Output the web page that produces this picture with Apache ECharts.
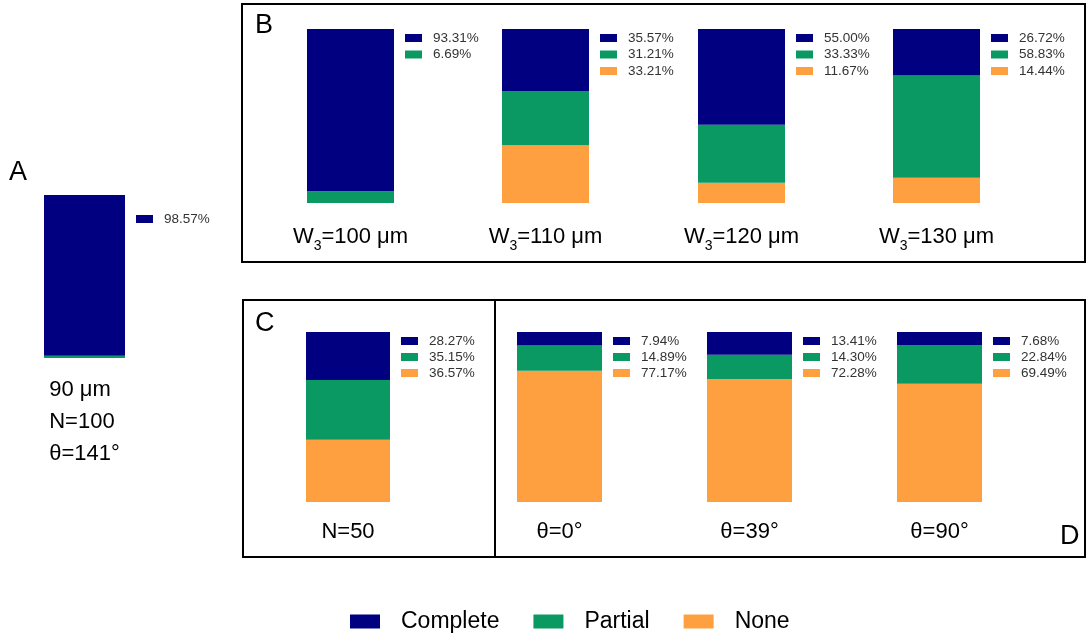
<!DOCTYPE html>
<html>
<head>
<meta charset="utf-8">
<script src="https://cdn.jsdelivr.net/npm/echarts@6/dist/echarts.min.js"></script>
<style>
  html, body { margin: 0; padding: 0; background: #fff; }
  #main { width: 1087px; height: 636px; }
</style>
</head>
<body>
<div id="main"></div>
<script>
// one entry per bar: A, B1..B4, C, D1..D3
var barLabels = ['{l|90 μm}\n{l|N=100}\n{l|θ=141°}', 'W{s|3}=100 μm', 'W{s|3}=110 μm', 'W{s|3}=120 μm', 'W{s|3}=130 μm',
                 'N=50', 'θ=0°', 'θ=39°', 'θ=90°'];
var complete = [98.57, 93.31, 35.57, 55.00, 26.72, 28.27, 7.94, 13.41, 7.68];
var partial  = [1.43, 6.69, 31.21, 33.33, 58.83, 35.15, 14.89, 14.30, 22.84];
var none     = [0, 0, 33.21, 11.67, 14.44, 36.57, 77.17, 72.28, 69.49];
// how many rows the little side list shows for each bar
var listed   = [1, 2, 3, 3, 3, 3, 3, 3, 3];
var seriesNames = ['Complete', 'Partial', 'None'];
var colors = ['#000080', '#0a9863', '#fea040'];

// bar boxes [left, top, width, height]
var boxes = [
    [44, 195, 81, 163],
    [307, 29, 87, 174], [502, 29, 87, 174], [698, 29, 87, 174], [893, 29, 87, 174],
    [306, 332, 84, 170],
    [517, 332, 85, 170], [707, 332, 85, 170], [897, 332, 85, 170]
];
var labelMargin = [16, 18, 18, 18, 18, 14, 14, 14, 14];
var listTop = [219, 38, 38, 38, 38, 341, 341, 341, 341];
var listStep = [16, 16.5, 16.5, 16.5, 16.5, 16, 16, 16, 16];

var font = '"Liberation Sans", Arial, sans-serif';
var grids = [], xAxes = [], yAxes = [], series = [], graphics = [];

boxes.forEach(function (b, i) {
    grids.push({left: b[0], top: b[1], width: b[2], height: b[3]});
    xAxes.push({
        type: 'category', gridIndex: i, data: [barLabels[i]],
        axisLine: {show: false}, axisTick: {show: false},
        axisLabel: {
            margin: labelMargin[i], color: '#000', fontSize: 22, fontFamily: font,
            lineHeight: 32, align: 'center',
            rich: {
                s: {fontSize: 14, verticalAlign: 'bottom', padding: [12, 0, 0, 0], fontFamily: font, color: '#000'},
                l: {align: 'left', fontSize: 22, lineHeight: 32, fontFamily: font, color: '#000'}
            }
        }
    });
    yAxes.push({type: 'value', gridIndex: i, min: 0, max: 100, show: false});
    var vals = [complete[i], partial[i], none[i]];
    // stack bottom-up: None, Partial, Complete
    [2, 1, 0].forEach(function (k) {
        series.push({
            name: seriesNames[k], type: 'bar', stack: 'bar' + i,
            xAxisIndex: i, yAxisIndex: i, barWidth: '100%',
            itemStyle: {color: colors[k]},
            data: [vals[k]], silent: true
        });
    });
    // side list of percentages
    for (var r = 0; r < listed[i]; r++) {
        var y = listTop[i] + r * listStep[i];
        var x = b[0] + b[2] + 11;
        graphics.push({type: 'rect', shape: {x: x, y: y - 4, width: 17, height: 8}, style: {fill: colors[r]}});
        graphics.push({type: 'text', x: x + 28, y: y,
            style: {text: vals[r].toFixed(2) + '%', fontSize: 13.5, fontFamily: font, fill: '#333', textVerticalAlign: 'middle'}});
    }
});

// panel frames and letters
graphics.push({type: 'rect', shape: {x: 242, y: 4, width: 843, height: 258}, style: {fill: null, stroke: '#000', lineWidth: 2}});
graphics.push({type: 'rect', shape: {x: 243, y: 300, width: 842, height: 257}, style: {fill: null, stroke: '#000', lineWidth: 2}});
graphics.push({type: 'line', shape: {x1: 495, y1: 300, x2: 495, y2: 557}, style: {stroke: '#000', lineWidth: 2}});
[['A', 9, 159], ['B', 255, 12], ['C', 255, 310], ['D', 1060, 523]].forEach(function (t) {
    graphics.push({type: 'text', x: t[1], y: t[2], style: {text: t[0], fontSize: 27, fontFamily: font, fill: '#000'}});
});

var chart = echarts.init(document.getElementById('main'));
chart.setOption({
    animation: false,
    backgroundColor: '#fff',
    legend: {
        data: seriesNames, left: 345, top: 605, itemWidth: 30, itemHeight: 14, itemGap: 34,
        icon: 'rect',
        textStyle: {fontSize: 23, fontFamily: font, color: '#000', padding: [0, 0, 0, 16]}
    },
    grid: grids,
    xAxis: xAxes,
    yAxis: yAxes,
    series: series,
    graphic: graphics
});
</script>
</body>
</html>
